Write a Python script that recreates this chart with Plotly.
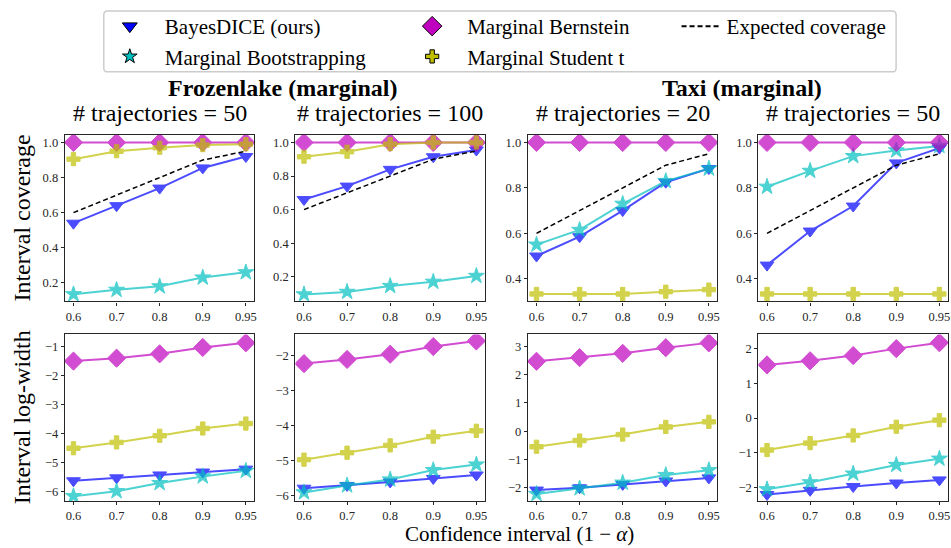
import plotly.graph_objects as go

W, H = 951, 548

# ---------------- data ----------------
x_labels = ["0.6", "0.7", "0.8", "0.9", "0.95"]
expected_coverage = [0.6, 0.7, 0.8, 0.9, 0.95]

panel_titles = ["# trajectories = 50", "# trajectories = 100",
                "# trajectories = 20", "# trajectories = 50"]
group_titles = ["Frozenlake (marginal)", "Taxi (marginal)"]

# interval coverage (top row), one list per panel
bayesdice_cov = [[0.54, 0.64, 0.74, 0.855, 0.92],
                 [0.66, 0.74, 0.84, 0.915, 0.955],
                 [0.50, 0.585, 0.70, 0.825, 0.885],
                 [0.46, 0.61, 0.72, 0.91, 0.975]]
bootstrap_cov = [[0.135, 0.16, 0.18, 0.23, 0.26],
                 [0.095, 0.11, 0.145, 0.17, 0.205],
                 [0.55, 0.615, 0.73, 0.83, 0.885],
                 [0.805, 0.875, 0.94, 0.965, 0.985]]
bernstein_cov = [[1.0, 1.0, 1.0, 1.0, 1.0],
                 [1.0, 1.0, 1.0, 1.0, 1.0],
                 [1.0, 1.0, 1.0, 1.0, 1.0],
                 [1.0, 1.0, 1.0, 1.0, 1.0]]
student_cov = [[0.905, 0.95, 0.97, 0.985, 0.99],
               [0.915, 0.945, 0.99, 1.0, 1.0],
               [0.333, 0.333, 0.333, 0.343, 0.352],
               [0.333, 0.333, 0.333, 0.333, 0.333]]

# interval log-width (bottom row)
bayesdice_lw = [[-5.62, -5.52, -5.42, -5.32, -5.22],
                [-5.80, -5.72, -5.62, -5.52, -5.42],
                [-2.08, -2.00, -1.88, -1.76, -1.65],
                [-2.20, -2.08, -1.97, -1.87, -1.78]]
bootstrap_lw = [[-6.15, -5.98, -5.70, -5.47, -5.28],
                [-5.92, -5.72, -5.55, -5.28, -5.12],
                [-2.22, -2.02, -1.82, -1.55, -1.38],
                [-2.05, -1.85, -1.60, -1.35, -1.17]]
bernstein_lw = [[-1.50, -1.40, -1.25, -1.03, -0.87],
                [-2.22, -2.10, -1.95, -1.73, -1.57],
                [2.47, 2.60, 2.75, 2.95, 3.12],
                [1.53, 1.65, 1.80, 2.00, 2.17]]
student_lw = [[-4.50, -4.30, -4.07, -3.82, -3.65],
              [-4.98, -4.78, -4.57, -4.32, -4.15],
              [-0.55, -0.33, -0.12, 0.15, 0.33],
              [-0.92, -0.72, -0.50, -0.25, -0.06]]

# ---------------- styling / layout ----------------
FONT = "Liberation Serif"
C_BLUE, C_CYAN, C_MAG, C_YEL = "#0000ff", "#00bfbf", "#bf00bf", "#bfbf00"

series = [
    ("BayesDICE (ours)", C_BLUE, "triangle-down", 12, 13, bayesdice_cov, bayesdice_lw),
    ("Marginal Bootstrapping", C_CYAN, "star", 12, 11, bootstrap_cov, bootstrap_lw),
    ("Marginal Bernstein", C_MAG, "diamond", 14, 15, bernstein_cov, bernstein_lw),
    ("Marginal Student t", C_YEL, "cross", 11, 11, student_cov, student_lw),
]

def fx(p):
    return p / W

def fy(p):
    return 1 - p / H

cols_px = [(65, 255), (296, 486), (529, 719), (760, 950)]
rows_px = [(135, 302), (335, 502)]

top_ranges = [[0.094, 1.044], [0.053, 1.046], [0.30, 1.034], [0.30, 1.034]]
bot_ranges = [[-6.32, -0.58], [-6.17, -1.38], [-2.47, 3.42], [-2.39, 2.41]]

fig = go.Figure()
layout = {}
axis_common = dict(showline=True, mirror=True, linecolor="#262626", linewidth=1.3,
                   ticks="outside", ticklen=3, tickwidth=1, tickcolor="#262626",
                   showgrid=False, zeroline=False,
                   tickfont=dict(family=FONT, size=12.5, color="#262626"))

idx = 0
for r in range(2):
    for c in range(4):
        idx += 1
        xa = "xaxis" if idx == 1 else f"xaxis{idx}"
        ya = "yaxis" if idx == 1 else f"yaxis{idx}"
        xref = "x" if idx == 1 else f"x{idx}"
        yref = "y" if idx == 1 else f"y{idx}"
        x0, x1 = cols_px[c]
        y0, y1 = rows_px[r]
        layout[xa] = dict(axis_common, domain=[fx(x0), fx(x1)], anchor=yref,
                          type="category", categoryorder="array",
                          categoryarray=x_labels, range=[-0.2, 4.2])
        yrng = top_ranges[c] if r == 0 else bot_ranges[c]
        layout[ya] = dict(axis_common, domain=[fy(y1), fy(y0)], anchor=xref,
                          range=yrng, dtick=0.2 if r == 0 else 1,
                          tickformat=".1f" if r == 0 else "d")
        for name, col, sym, sz, lsz, cov, lw in series:
            yvals = cov[c] if r == 0 else lw[c]
            fig.add_trace(go.Scatter(
                x=x_labels, y=yvals, xaxis=xref, yaxis=yref,
                mode="lines+markers", opacity=0.7, showlegend=False,
                line=dict(color=col, width=2),
                marker=dict(symbol=sym, size=sz, color=col,
                            line=dict(color=col, width=1)),
                name=name))
        if r == 0:
            fig.add_trace(go.Scatter(
                x=x_labels, y=expected_coverage, xaxis=xref, yaxis=yref,
                mode="lines", showlegend=False,
                line=dict(color="black", width=1.5, dash="5px,3px"),
                name="Expected coverage"))

# legend-only entries (no data)
legend_of = {"BayesDICE (ours)": "legend", "Marginal Bootstrapping": "legend",
             "Marginal Bernstein": "legend2", "Marginal Student t": "legend2"}
for name, col, sym, sz, lsz, cov, lw in series:
    fig.add_trace(go.Scatter(
        x=[None], y=[None], mode="markers", name=name, legend=legend_of[name],
        marker=dict(symbol=sym, size=lsz, color=col,
                    line=dict(color="black", width=1))))
fig.add_trace(go.Scatter(
    x=[None], y=[None], mode="lines", name="Expected coverage", legend="legend3",
    line=dict(color="black", width=2, dash="5px,3px")))

leg_common = dict(font=dict(family=FONT, size=21, color="black"),
                  bgcolor="rgba(0,0,0,0)", borderwidth=0,
                  xanchor="left", yanchor="top", orientation="v",
                  itemwidth=60, tracegroupgap=0)
layout["legend"] = dict(leg_common, x=fx(95), y=fy(6))
layout["legend2"] = dict(leg_common, x=fx(398), y=fy(6))
layout["legend3"] = dict(leg_common, x=fx(678), y=fy(6), itemwidth=40)

annotations = []
for c in range(4):
    x0, x1 = cols_px[c]
    annotations.append(dict(text=panel_titles[c], x=fx((x0 + x1) / 2), y=fy(113),
                            xref="paper", yref="paper", showarrow=False,
                            xanchor="center", yanchor="middle",
                            font=dict(family=FONT, size=24, color="black")))
annotations.append(dict(text="<b>" + group_titles[0] + "</b>", x=fx(284), y=fy(88),
                        xref="paper", yref="paper", showarrow=False,
                        xanchor="center", yanchor="middle",
                        font=dict(family=FONT, size=24, color="black")))
annotations.append(dict(text="<b>" + group_titles[1] + "</b>", x=fx(744), y=fy(88),
                        xref="paper", yref="paper", showarrow=False,
                        xanchor="center", yanchor="middle",
                        font=dict(family=FONT, size=24, color="black")))
annotations.append(dict(text="Interval coverage", x=fx(22), y=fy(218),
                        xref="paper", yref="paper", showarrow=False, textangle=-90,
                        xanchor="center", yanchor="middle",
                        font=dict(family=FONT, size=24, color="black")))
annotations.append(dict(text="Interval log-width", x=fx(22), y=fy(418),
                        xref="paper", yref="paper", showarrow=False, textangle=-90,
                        xanchor="center", yanchor="middle",
                        font=dict(family=FONT, size=24, color="black")))
annotations.append(dict(text="Confidence interval (1 − <i>α</i>)", x=fx(521), y=0,
                        xref="paper", yref="paper", showarrow=False,
                        xanchor="center", yanchor="bottom", borderpad=0,
                        font=dict(family=FONT, size=21, color="black")))

# rounded legend frame
bx0, by0, bx1, by1, rr = 104, 11, 898, 72, 4
def P(px, py):
    return f"{fx(px):.5f},{fy(py):.5f}"
path = (f"M{P(bx0 + rr, by0)} L{P(bx1 - rr, by0)} Q{P(bx1, by0)} {P(bx1, by0 + rr)} "
        f"L{P(bx1, by1 - rr)} Q{P(bx1, by1)} {P(bx1 - rr, by1)} "
        f"L{P(bx0 + rr, by1)} Q{P(bx0, by1)} {P(bx0, by1 - rr)} "
        f"L{P(bx0, by0 + rr)} Q{P(bx0, by0)} {P(bx0 + rr, by0)} Z")
shapes = [dict(type="path", path=path, xref="paper", yref="paper",
               line=dict(color="#cccccc", width=1.5), fillcolor="rgba(0,0,0,0)")]

fig.update_layout(width=W, height=H, margin=dict(l=0, r=0, t=0, b=0),
                  paper_bgcolor="white", plot_bgcolor="white",
                  annotations=annotations, shapes=shapes, **layout)
fig.write_html("out.html", config={"displayModeBar": False},
               post_script="document.body.style.margin='0';document.body.style.padding='0';")
